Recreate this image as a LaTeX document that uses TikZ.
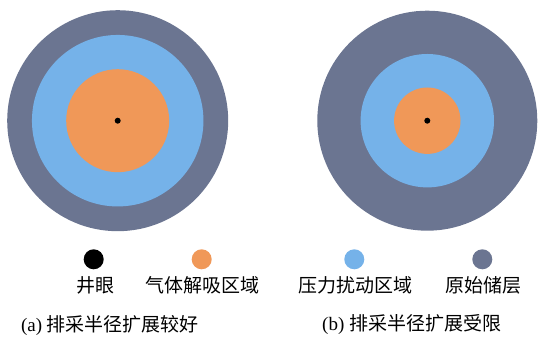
\documentclass[tikz,border=0pt]{standalone}
\usepackage{fontspec}
\setmainfont{Liberation Serif}
\newfontfamily\cjk{Noto Sans CJK SC}
\definecolor{rescol}{RGB}{107,117,145}
\definecolor{prescol}{RGB}{117,178,233}
\definecolor{gascol}{RGB}{240,152,88}
\begin{document}
\begin{tikzpicture}[x=1pt,y=1pt,
  disk/.style={circle,inner sep=0pt,outer sep=0pt,draw=none},
  lab/.style={font=\fontsize{19}{21}\selectfont\cjk,inner sep=0pt,anchor=center},
  captext/.style={font=\fontsize{19}{21}\selectfont,inner sep=0pt,anchor=center}]
\useasboundingbox (0,0) rectangle (539,337);
% left
\node[disk,fill=rescol,minimum size=221] (La) at (117.7,216.3) {};
\node[disk,fill=prescol,minimum size=171.5] (Lb) at (117.7,216.3) {};
\node[disk,fill=gascol,minimum size=103] (Lc) at (117.7,216.3) {};
\node[disk,fill=black,minimum size=6] (Ld) at (117.7,216.3) {};
% right
\node[disk,fill=rescol,minimum size=220] (Ra) at (427.3,216.3) {};
\node[disk,fill=prescol,minimum size=133.4] (Rb) at (427.3,216.3) {};
\node[disk,fill=gascol,minimum size=66.4] (Rc) at (427.3,216.3) {};
\node[disk,fill=black,minimum size=6] (Rd) at (427.3,216.3) {};
% legend
\node[disk,fill=black,minimum size=20] (k1) at (93.7,77.7) {};
\node[disk,fill=gascol,minimum size=20] (k2) at (201.7,77.7) {};
\node[disk,fill=prescol,minimum size=20] (k3) at (354.3,77.7) {};
\node[disk,fill=rescol,minimum size=20] (k4) at (482.3,77.7) {};
\node[lab] (t1) at (95.7,52) {井眼};
\node[lab] (t2) at (202.5,52) {气体解吸区域};
\node[lab] (t3) at (355.7,52) {压力扰动区域};
\node[lab] (t4) at (483,52) {原始储层};
\node[captext] (c1) at (110,12) {(a) {\cjk 排采半径扩展较好}};
\node[captext] (c2) at (411.7,12) {(b) {\cjk 排采半径扩展受限}};
\end{tikzpicture}
\end{document}
